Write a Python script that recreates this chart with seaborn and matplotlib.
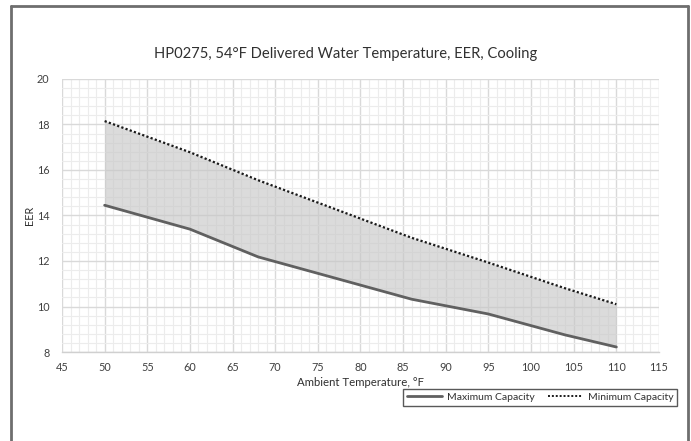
import numpy as np
import pandas as pd
import matplotlib
matplotlib.use("Agg")
import matplotlib.pyplot as plt
import seaborn as sns
from matplotlib.lines import Line2D
from matplotlib.ticker import MultipleLocator


# Chart data
AMBIENT_F = [50, 60, 68, 86, 95, 104, 110]
EER_MAX_CAP = [14.45, 13.40, 12.18, 10.32, 9.67, 8.75, 8.22]
EER_MIN_CAP = [18.15, 16.78, 15.55, 13.02, 11.93, 10.80, 10.10]
SERIES_NAMES = ["Maximum Capacity", "Minimum Capacity"]

TITLE = "HP0275, 54°F Delivered Water Temperature, EER, Cooling"
X_LABEL = "Ambient Temperature, °F"
Y_LABEL = "EER"


sns.set_theme(style="white")
plt.rcParams['font.family'] = ['Lato', 'DejaVu Sans']

df = pd.DataFrame({
    'ambient': AMBIENT_F * 2,
    'eer': EER_MAX_CAP + EER_MIN_CAP,
    'series': [SERIES_NAMES[0]] * len(AMBIENT_F) + [SERIES_NAMES[1]] * len(AMBIENT_F),
})

fig = plt.figure(figsize=(6.91, 4.41), dpi=100)
ax = fig.add_axes([0.0897, 0.2018, 0.8640, 0.6191])

# shaded band between the two capacities
ax.fill_between(AMBIENT_F, EER_MAX_CAP, EER_MIN_CAP, color="#c8c8c8", alpha=0.65,
                linewidth=0, zorder=2)

sns.lineplot(data=df, x='ambient', y='eer', hue='series', style='series',
             palette={SERIES_NAMES[0]: "#606060", SERIES_NAMES[1]: "#1a1a1a"},
             dashes={SERIES_NAMES[0]: "", SERIES_NAMES[1]: (1, 1)},
             ax=ax, legend=False, zorder=3)
ax.lines[0].set_linewidth(2.0)
ax.lines[1].set_linewidth(1.6)

ax.set_xlim(45, 115)
ax.set_ylim(8, 20)
ax.xaxis.set_major_locator(MultipleLocator(5))
ax.xaxis.set_minor_locator(MultipleLocator(1))
ax.yaxis.set_major_locator(MultipleLocator(2))
ax.yaxis.set_minor_locator(MultipleLocator(0.4))
ax.grid(which='major', color="#d9d9d9", linewidth=1.0, zorder=0)
ax.grid(which='minor', color="#ececec", linewidth=0.8, zorder=0)
ax.set_axisbelow(True)
for side in ['top', 'right', 'left']:
    ax.spines[side].set_visible(False)
ax.spines['bottom'].set_color("#d0d0d0")
ax.spines['bottom'].set_linewidth(1.0)

ax.tick_params(which='both', length=0, labelsize=7.8, labelcolor="#404040")
ax.tick_params(axis='x', pad=7)
ax.tick_params(axis='y', pad=9)
ax.set_xlabel(X_LABEL, fontsize=8.2, color="#303030", labelpad=3)
ax.set_ylabel(Y_LABEL, fontsize=7.8, color="#303030")
ax.yaxis.set_label_coords(-0.045, 0.5)
fig.text(0.5, 0.878, TITLE, ha='center', va='center', fontsize=10.6, color="#303030")

handles = [Line2D([0], [0], color="#606060", lw=2.0),
           Line2D([0], [0], color="#1a1a1a", lw=1.4, linestyle=(0, (1, 1)))]
leg = fig.legend(handles, SERIES_NAMES, loc='center right', bbox_to_anchor=(0.988, 0.099),
                 ncol=2, fontsize=7.5, frameon=True, fancybox=False, handlelength=3.4,
                 handletextpad=0.5, columnspacing=1.2, borderpad=0.35, labelcolor="#303030")
leg.get_frame().set_edgecolor("#303030")
leg.get_frame().set_linewidth(1.0)

# outer frame (left, top, right only)
for xs, ys in [([0.0159, 0.0159], [0.0, 0.986]),
               ([0.0159, 0.9957], [0.986, 0.986]),
               ([0.9957, 0.9957], [0.0, 0.986])]:
    fig.add_artist(Line2D(xs, ys, color="#6e6e6e", lw=2.0, transform=fig.transFigure))

fig.savefig("out.png", dpi=100)
